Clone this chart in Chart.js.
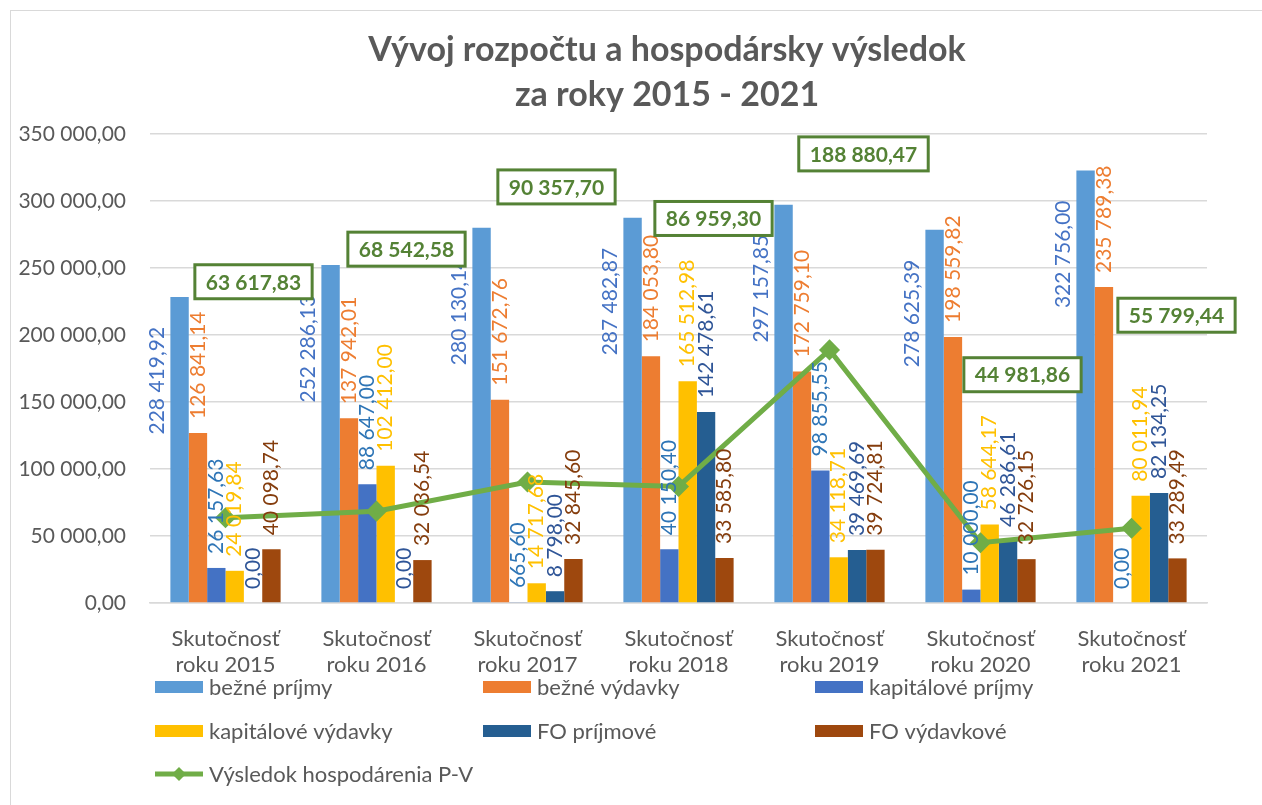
<!DOCTYPE html>
<html>
<head>
    <meta charset="UTF-8">
    <title>Vývoj rozpočtu a hospodársky výsledok</title>
    <script src="https://cdn.jsdelivr.net/npm/chart.js"></script>
    <style>
        body {
            margin: 0;
            background: #fff;
        }

        .frame {
            position: absolute;
            left: 10px;
            top: 10px;
            width: 1262px;
            height: 805px;
            border-left: 1px solid #d9d9d9;
            border-top: 1px solid #d9d9d9;
        }

        .wrap {
            position: absolute;
            left: 0;
            top: 0;
            width: 1262px;
            height: 805px;
        }
    </style>
</head>
<body>
    <div class="frame"></div>
    <div class="wrap">
        <canvas id="rozpocetChart" width="1262" height="805"></canvas>
    </div>

    <script>
        // Údaje z grafu
        var roky = [
            ['Skutočnosť', 'roku 2015'],
            ['Skutočnosť', 'roku 2016'],
            ['Skutočnosť', 'roku 2017'],
            ['Skutočnosť', 'roku 2018'],
            ['Skutočnosť', 'roku 2019'],
            ['Skutočnosť', 'roku 2020'],
            ['Skutočnosť', 'roku 2021']
        ];
        var bezne_prijmy = [228419.92, 252286.13, 280130.14, 287482.87, 297157.85, 278625.39, 322756.00];
        var bezne_vydavky = [126841.14, 137942.01, 151672.76, 184053.80, 172759.10, 198559.82, 235789.38];
        var kapitalove_prijmy = [26157.63, 88647.00, 665.60, 40150.40, 98855.55, 10000.00, 0.00];
        var kapitalove_vydavky = [24019.84, 102412.00, 14717.68, 165512.98, 34118.71, 58644.17, 80011.94];
        var fo_prijmove = [0.00, 0.00, 8798.00, 142478.61, 39469.69, 46286.61, 82134.25];
        var fo_vydavkove = [40098.74, 32036.54, 32845.60, 33585.80, 39724.81, 32726.15, 33289.49];
        var vysledok = [63617.83, 68542.58, 90357.70, 86959.30, 188880.47, 44981.86, 55799.44];
        var yTicks = [0, 50000, 100000, 150000, 200000, 250000, 300000, 350000];

        var nazvy = ['bežné príjmy', 'bežné výdavky', 'kapitálové príjmy', 'kapitálové výdavky', 'FO príjmové', 'FO výdavkové'];
        var farby = ['#5B9BD5', '#ED7D31', '#4472C4', '#FFC000', '#255E91', '#9E480E'];
        var farbyPopisov = ['#4472C4', '#ED7D31', '#2E75B6', '#FFC000', '#2F5597', '#843C0C'];
        var zelena = '#70AD47';
        var tmavaZelena = '#548235';
        var sedy = '#595959';
        var FONT = 'Lato, "Open Sans", sans-serif';

        // ručne posunuté popisy výsledku (ako v Exceli), posun od bodu v px
        var posunPopisov = [[28, -236], [30, -262], [29, -295], [35, -268], [34, -196], [42, -168], [45, -213]];

        function fmt(v) {
            var parts = v.toFixed(2).split('.');
            return parts[0].replace(/\B(?=(\d{3})+(?!\d))/g, ' ') + ',' + parts[1];
        }

        var hodnoty = [bezne_prijmy, bezne_vydavky, kapitalove_prijmy, kapitalove_vydavky, fo_prijmove, fo_vydavkove];
        var datasets = hodnoty.map(function(data, i) {
            return {
                type: 'bar',
                label: nazvy[i],
                data: data,
                backgroundColor: farby[i],
                borderWidth: 0,
                categoryPercentage: 0.73,
                barPercentage: 1.0,
                order: 2
            };
        });
        datasets.push({
            type: 'line',
            label: 'Výsledok hospodárenia P-V',
            data: vysledok,
            borderColor: zelena,
            backgroundColor: zelena,
            borderWidth: 5,
            pointStyle: 'rectRot',
            pointRadius: 7,
            pointBackgroundColor: zelena,
            pointBorderColor: zelena,
            tension: 0,
            order: 1
        });

        // Nadpis, popisy hodnôt a legenda
        var kreslenie = {
            id: 'kreslenie',
            afterDatasetsDraw: function(chart) {
                var ctx = chart.ctx;
                ctx.save();

                // popisy stĺpcov
                ctx.font = '21px ' + FONT;
                ctx.textBaseline = 'middle';
                for (var i = 0; i < 6; i++) {
                    var meta = chart.getDatasetMeta(i);
                    meta.data.forEach(function(el, j) {
                        var text = fmt(hodnoty[i][j]);
                        ctx.save();
                        ctx.fillStyle = farbyPopisov[i];
                        if (i === 0) {
                            ctx.translate(el.x - el.width * 1.2, el.y + 30);
                            ctx.rotate(-Math.PI / 2);
                            ctx.textAlign = 'right';
                        } else {
                            ctx.translate(el.x, el.y - 14);
                            ctx.rotate(-Math.PI / 2);
                            ctx.textAlign = 'left';
                        }
                        ctx.fillText(text, 0, 0);
                        ctx.restore();
                    });
                }

                // popisy výsledku
                var lineMeta = chart.getDatasetMeta(6);
                ctx.font = 'bold 21px ' + FONT;
                ctx.textAlign = 'center';
                lineMeta.data.forEach(function(pt, j) {
                    var text = fmt(vysledok[j]);
                    var w = ctx.measureText(text).width + 22;
                    var h = 34;
                    var cx = pt.x + posunPopisov[j][0];
                    var cy = pt.y + posunPopisov[j][1];
                    ctx.fillStyle = '#fff';
                    ctx.fillRect(cx - w / 2, cy - h / 2, w, h);
                    ctx.strokeStyle = tmavaZelena;
                    ctx.lineWidth = 3;
                    ctx.strokeRect(cx - w / 2, cy - h / 2, w, h);
                    ctx.fillStyle = tmavaZelena;
                    ctx.fillText(text, cx, cy + 1);
                });

                ctx.restore();
            },
            afterDraw: function(chart) {
                var ctx = chart.ctx;
                ctx.save();

                // nadpis
                ctx.fillStyle = sedy;
                ctx.font = 'bold 34px ' + FONT;
                ctx.textAlign = 'center';
                ctx.textBaseline = 'middle';
                ctx.fillText('Vývoj rozpočtu a hospodársky výsledok', 667, 50);
                ctx.fillText('za roky 2015 - 2021', 667, 95);

                // legenda
                var stlpce = [155, 483, 815];
                var riadky = [687, 731, 774];
                ctx.font = '22px ' + FONT;
                ctx.textAlign = 'left';
                for (var i = 0; i < 6; i++) {
                    var x = stlpce[i % 3];
                    var y = riadky[Math.floor(i / 3)];
                    ctx.fillStyle = farby[i];
                    ctx.fillRect(x, y - 6, 48, 12);
                    ctx.fillStyle = sedy;
                    ctx.fillText(nazvy[i], x + 54, y + 1);
                }
                var lx = stlpce[0], ly = riadky[2];
                ctx.strokeStyle = zelena;
                ctx.lineWidth = 5;
                ctx.beginPath();
                ctx.moveTo(lx, ly);
                ctx.lineTo(lx + 48, ly);
                ctx.stroke();
                ctx.fillStyle = zelena;
                ctx.beginPath();
                ctx.moveTo(lx + 24, ly - 7);
                ctx.lineTo(lx + 31, ly);
                ctx.lineTo(lx + 24, ly + 7);
                ctx.lineTo(lx + 17, ly);
                ctx.closePath();
                ctx.fill();
                ctx.fillStyle = sedy;
                ctx.fillText('Výsledok hospodárenia P-V', lx + 54, ly + 1);

                ctx.restore();
            }
        };

        var ctx = document.getElementById('rozpocetChart').getContext('2d');
        var chart = new Chart(ctx, {
            data: {
                labels: roky,
                datasets: datasets
            },
            options: {
                responsive: false,
                animation: false,
                layout: {
                    padding: { left: 18, right: 55, top: 134, bottom: 0 }
                },
                plugins: {
                    legend: { display: false },
                    title: { display: false },
                    tooltip: { enabled: false }
                },
                scales: {
                    x: {
                        grid: { display: false },
                        border: { color: '#d9d9d9', width: 1.5 },
                        ticks: {
                            color: sedy,
                            font: { family: FONT, size: 22, lineHeight: 1.18 },
                            padding: 15,
                            maxRotation: 0
                        },
                        afterFit: function(scale) { scale.height = 202; }
                    },
                    y: {
                        min: 0,
                        max: 350000,
                        grid: { color: '#d9d9d9', lineWidth: 1.5, drawTicks: false },
                        border: { display: false },
                        afterBuildTicks: function(scale) {
                            scale.ticks = yTicks.map(function(v) { return { value: v }; });
                        },
                        ticks: {
                            color: sedy,
                            font: { family: FONT, size: 21 },
                            padding: 24,
                            callback: function(v) { return fmt(v); }
                        },
                        afterFit: function(scale) { scale.width = 132; }
                    }
                }
            },
            plugins: [kreslenie]
        });
    </script>
</body>
</html>
